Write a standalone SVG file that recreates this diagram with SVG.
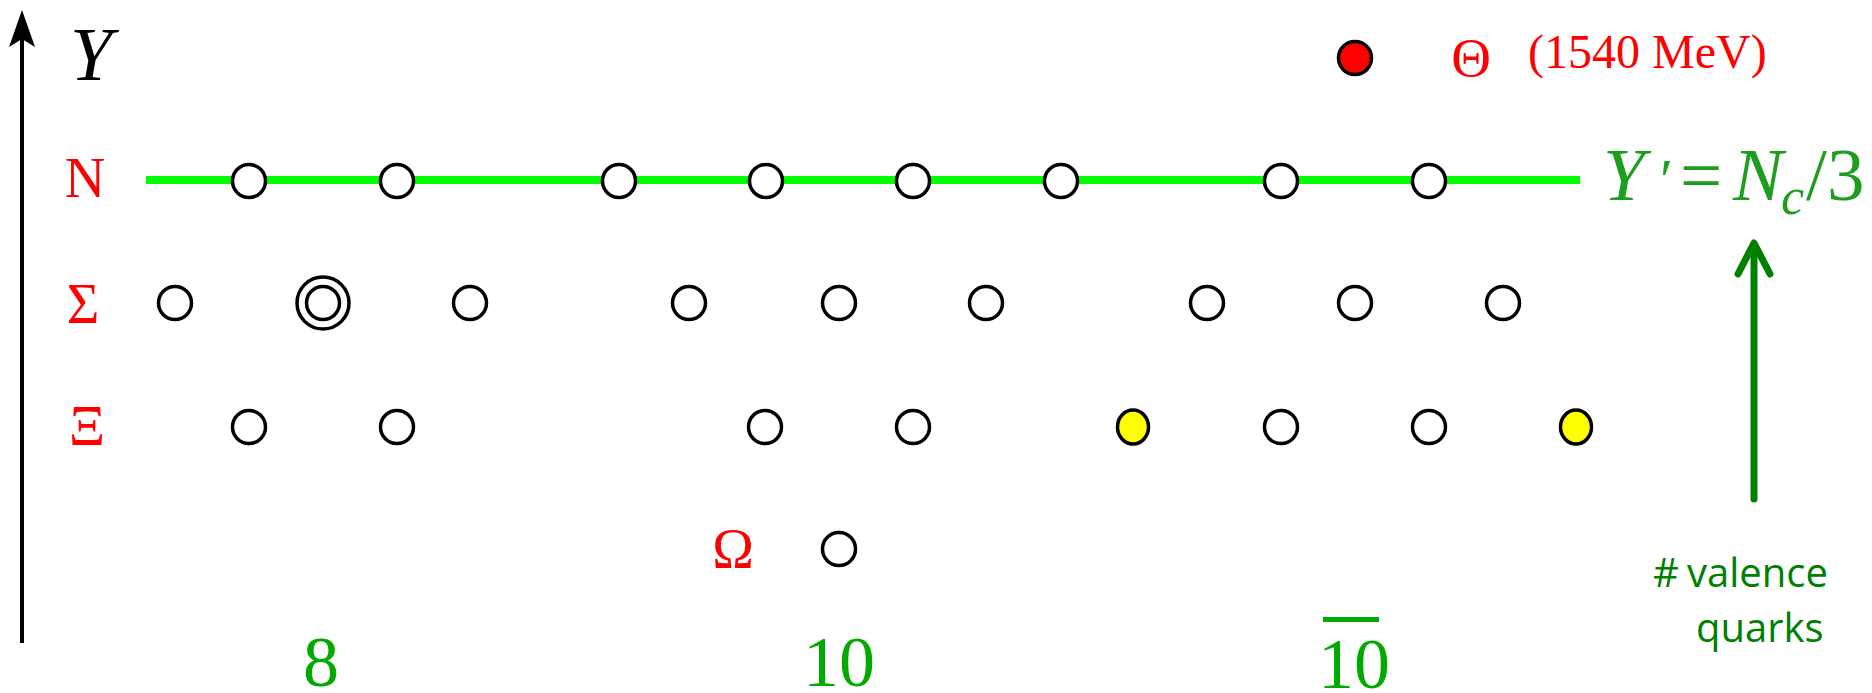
<svg xmlns="http://www.w3.org/2000/svg" width="1872" height="693" viewBox="0 0 1872 693">
<style>
.s{fill:#fff;stroke:#000;stroke-width:3.5}
.y{fill:#ffff00;stroke:#000;stroke-width:3.5}
.r{fill:#ff0000;stroke:#000;stroke-width:3.5}
.lab{font-family:"Liberation Serif",serif;fill:#ff0000;text-anchor:middle}
.num{font-family:"Liberation Serif",serif;fill:#00aa00;font-size:72px;text-anchor:middle}
.eq{font-family:"Liberation Serif",serif;fill:#1e9e1e;font-size:75px}
</style>
<rect width="1872" height="693" fill="#fff"/>
<g id="connectors">
  <line x1="22" y1="643" x2="22" y2="30" stroke="#000" stroke-width="4"/>
  <path d="M22,10 L9,47 L22,39 L35,47 Z" fill="#000"/>
  <line x1="146" y1="180" x2="1580" y2="180" stroke="#00ff00" stroke-width="8"/>
  <g stroke="#008000" stroke-width="7" fill="none" stroke-linecap="round" stroke-linejoin="round">
    <line x1="1754" y1="499" x2="1754" y2="246"/>
    <polyline points="1738,274 1754,243 1770,274"/>
  </g>
</g>
<g id="axis-labels">
  <text x="70" y="80" font-family="Liberation Serif,serif" font-style="italic" font-size="76" fill="#000">Y</text>
  <text class="lab" x="85" y="197" font-size="56">N</text>
  <text class="lab" x="83" y="323" font-size="56">Σ</text>
  <text class="lab" x="87" y="445" font-size="56">Ξ</text>
  <text class="lab" x="733" y="568" font-size="56">Ω</text>
</g>
<g id="octet">
  <g id="oct-n1"><circle class="s" cx="249" cy="181" r="16.5"/></g>
  <g id="oct-n2"><circle class="s" cx="397" cy="181" r="16.5"/></g>
  <g id="oct-s1"><circle class="s" cx="175" cy="303" r="16.5"/></g>
  <g id="oct-s0"><circle class="s" cx="323" cy="303" r="26"/><circle class="s" cx="323" cy="303" r="16.5"/></g>
  <g id="oct-s2"><circle class="s" cx="470" cy="303" r="16.5"/></g>
  <g id="oct-x1"><circle class="s" cx="249" cy="427" r="16.5"/></g>
  <g id="oct-x2"><circle class="s" cx="397" cy="427" r="16.5"/></g>
</g>
<g id="decuplet">
  <g id="dec-n1"><circle class="s" cx="619" cy="181" r="16.5"/></g>
  <g id="dec-n2"><circle class="s" cx="766" cy="181" r="16.5"/></g>
  <g id="dec-n3"><circle class="s" cx="913" cy="181" r="16.5"/></g>
  <g id="dec-n4"><circle class="s" cx="1061" cy="181" r="16.5"/></g>
  <g id="dec-s1"><circle class="s" cx="689" cy="303" r="16.5"/></g>
  <g id="dec-s2"><circle class="s" cx="839" cy="303" r="16.5"/></g>
  <g id="dec-s3"><circle class="s" cx="986" cy="303" r="16.5"/></g>
  <g id="dec-x1"><circle class="s" cx="765" cy="427" r="16.5"/></g>
  <g id="dec-x2"><circle class="s" cx="913" cy="427" r="16.5"/></g>
  <g id="dec-o"><circle class="s" cx="839" cy="549" r="16.5"/></g>
</g>
<g id="antidecuplet">
  <g id="anti-theta"><circle class="r" cx="1355" cy="58" r="16.5"/></g>
  <g id="anti-n1"><circle class="s" cx="1281" cy="181" r="16.5"/></g>
  <g id="anti-n2"><circle class="s" cx="1429" cy="181" r="16.5"/></g>
  <g id="anti-s1"><circle class="s" cx="1207" cy="303" r="16.5"/></g>
  <g id="anti-s2"><circle class="s" cx="1355" cy="303" r="16.5"/></g>
  <g id="anti-s3"><circle class="s" cx="1503" cy="303" r="16.5"/></g>
  <g id="anti-x1"><ellipse class="y" cx="1133" cy="427" rx="15.5" ry="17"/></g>
  <g id="anti-x2"><circle class="s" cx="1281" cy="427" r="16.5"/></g>
  <g id="anti-x3"><circle class="s" cx="1429" cy="427" r="16.5"/></g>
  <g id="anti-x4"><ellipse class="y" cx="1576" cy="427" rx="15.5" ry="17"/></g>
</g>
<g id="theta-label">
  <text class="lab" x="1471" y="76" font-size="55">Θ</text>
  <text x="1528" y="68" font-family="Liberation Serif,serif" font-size="48" fill="#ff0000">(1540 MeV)</text>
</g>
<g id="multiplet-labels">
  <text class="num" x="321" y="686">8</text>
  <text class="num" x="839" y="686">10</text>
  <text class="num" x="1354" y="688">10</text>
  <line x1="1323" y1="619.5" x2="1379" y2="619.5" stroke="#00aa00" stroke-width="5"/>
</g>
<g id="ycolor-label">
  <text class="eq" y="200"><tspan x="1603" font-style="italic">Y</tspan><tspan x="1660" font-size="60">′</tspan><tspan x="1680">=</tspan><tspan x="1733" font-style="italic">N</tspan><tspan x="1781" y="214" font-size="52" font-style="italic">c</tspan><tspan x="1806" y="200">/</tspan><tspan x="1827">3</tspan></text>
</g>
<g id="valence-label">
  <text font-family="Open Sans,sans-serif" font-size="40" fill="#008000">
    <tspan x="1653" y="587">#</tspan><tspan x="1687" y="587">valence</tspan>
    <tspan x="1696" y="642">quarks</tspan>
  </text>
</g>
</svg>
